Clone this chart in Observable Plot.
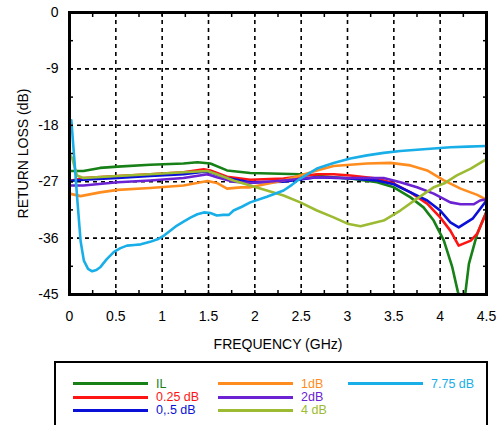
<!DOCTYPE html>
<html>
<head>
<meta charset="utf-8">
<script src="https://cdn.jsdelivr.net/npm/d3@7"></script>
<script src="https://cdn.jsdelivr.net/npm/@observablehq/plot@0.6"></script>
<style>
  html, body { margin: 0; padding: 0; background: white; }
  body { width: 500px; height: 425px; overflow: hidden; position: relative; font-family: "Liberation Sans", Arial, sans-serif; }
  #legend { position: absolute; left: 54px; top: 361px; width: 430px; height: 90px; border: 2px solid black; background: white; }
  .item { position: absolute; height: 12px; display: flex; align-items: center; font-size: 12.5px; line-height: 12px; white-space: nowrap; }
  .swatch { width: 75px; height: 3px; margin-right: 8px; }
</style>
</head>
<body>
<div id="chart"></div>
<div id="legend"></div>
<script>
// ---- data (frequency GHz, return loss dB) ----
const seriesNames = ["IL", "0.25 dB", "0,.5 dB", "1dB", "2dB", "4 dB", "7.75 dB"];
const seriesColors = ["#178017", "#ff1414", "#0a10d8", "#ff8c1e", "#6a22d2", "#9cbb32", "#18aee8"];

const ilData = [[0,-25.3],[0.15,-25.3],[0.33,-24.8],[0.52,-24.6],[0.87,-24.3],[1.23,-24.1],[1.38,-23.9],[1.52,-24.1],[1.70,-25.2],[1.95,-25.6],[2.49,-25.8],[2.85,-26.3],[3.03,-26.5],[3.32,-27.1],[3.50,-27.9],[3.68,-29.5],[3.82,-31.1],[3.93,-33.2],[4.04,-36.4],[4.13,-40.6],[4.19,-44.5],[4.23,-46.5],[4.27,-45.0],[4.31,-40.1],[4.40,-35.3],[4.5,-31.8]];
const db025Data = [[0,-26.9],[0.15,-26.4],[0.52,-26.1],[0.87,-25.8],[1.23,-25.5],[1.45,-25.0],[1.52,-25.2],[1.70,-26.2],[1.95,-26.7],[2.31,-26.5],[2.67,-25.8],[2.85,-25.8],[3.03,-26.0],[3.32,-26.5],[3.50,-27.3],[3.68,-28.7],[3.86,-30.5],[4.00,-32.7],[4.11,-34.8],[4.20,-37.2],[4.33,-36.4],[4.40,-35.3],[4.5,-31.8]];
const db05Data = [[0,-26.9],[0.15,-26.7],[0.52,-26.4],[0.87,-26.1],[1.23,-25.8],[1.45,-25.4],[1.52,-25.5],[1.70,-26.4],[1.95,-27.1],[2.31,-27.0],[2.67,-26.3],[3.03,-26.5],[3.32,-26.8],[3.50,-27.4],[3.68,-28.7],[3.86,-30.0],[4.00,-31.6],[4.11,-33.5],[4.20,-34.3],[4.35,-32.9],[4.5,-30.0]];
const db1Data = [[0,-28.9],[0.12,-29.3],[0.33,-28.7],[0.52,-28.3],[0.87,-28.0],[1.23,-27.6],[1.49,-26.9],[1.59,-27.2],[1.70,-28.1],[1.85,-27.9],[1.95,-27.9],[2.31,-26.8],[2.67,-25.2],[2.85,-24.5],[3.21,-24.1],[3.46,-24.0],[3.68,-24.4],[3.86,-25.2],[4.04,-26.8],[4.22,-28.1],[4.40,-29.1],[4.5,-29.9]];
const db2Data = [[0,-27.6],[0.15,-27.6],[0.52,-27.1],[0.87,-26.8],[1.23,-26.4],[1.49,-25.8],[1.59,-26.3],[1.77,-27.0],[1.95,-27.2],[2.31,-26.8],[2.67,-26.3],[3.03,-26.4],[3.39,-26.4],[3.57,-27.1],[3.75,-27.9],[3.93,-28.9],[4.11,-30.3],[4.22,-30.6],[4.36,-30.6],[4.43,-30.0],[4.5,-29.8]];
const db4Data = [[0,-22.6],[0.03,-23.3],[0.08,-26.0],[0.15,-26.4],[0.52,-26.1],[0.87,-25.8],[1.23,-25.5],[1.49,-25.3],[1.59,-25.8],[1.77,-26.8],[1.95,-27.6],[2.13,-28.4],[2.31,-29.2],[2.49,-30.3],[2.67,-31.6],[2.85,-32.7],[3.0,-33.7],[3.14,-34.1],[3.28,-33.6],[3.39,-33.2],[3.57,-31.6],[3.75,-29.7],[3.93,-27.9],[4.04,-27.3],[4.18,-26.0],[4.33,-24.9],[4.5,-23.4]];
const db775Data = [[0.02,-17.2],[0.05,-23.0],[0.085,-30.0],[0.12,-36.5],[0.155,-39.6],[0.2,-40.9],[0.245,-41.3],[0.29,-41.1],[0.335,-40.6],[0.4,-39.4],[0.48,-38.2],[0.55,-37.6],[0.62,-37.2],[0.7,-37.1],[0.77,-37.0],[0.87,-36.6],[0.95,-36.2],[1.02,-35.6],[1.09,-34.8],[1.16,-34.0],[1.24,-33.3],[1.31,-32.7],[1.38,-32.2],[1.45,-31.9],[1.52,-32.0],[1.59,-32.4],[1.66,-32.3],[1.72,-32.3],[1.77,-31.6],[1.86,-31.0],[1.95,-30.3],[2.13,-29.4],[2.31,-28.4],[2.4,-27.5],[2.49,-26.5],[2.58,-25.7],[2.67,-24.9],[2.85,-24.0],[3.03,-23.3],[3.21,-22.8],[3.39,-22.4],[3.57,-22.1],[3.75,-21.9],[3.93,-21.7],[4.11,-21.5],[4.3,-21.4],[4.5,-21.3]];

const xTicks = [0, 0.5, 1, 1.5, 2, 2.5, 3, 3.5, 4, 4.5];
const yTicks = [0, -9, -18, -27, -36, -45];
const xGrid = [0.5, 1, 1.5, 2, 2.5, 3, 3.5, 4];
const yGrid = [-9, -18, -27, -36];
const xMinor = [0.25, 0.75, 1.25, 1.75, 2.25, 2.75, 3.25, 3.75, 4.25];
const yMinor = [-4.5, -13.5, -22.5, -31.5, -40.5];

const allSeries = [ilData, db025Data, db05Data, db1Data, db2Data, db4Data, db775Data];
const rows = allSeries.flatMap((s, i) => s.map(([f, v]) => ({f, v, name: seriesNames[i]})));

const lineMarks = seriesNames.map((name, i) =>
  Plot.line(rows.filter(d => d.name === name), {x: "f", y: "v", stroke: seriesColors[i], strokeWidth: 2.6, clip: true})
);

const minorAxes = [
  Plot.axisX(xMinor.concat(xGrid), {anchor: "bottom", tickSize: 4, dy: -4, text: null, label: null, strokeWidth: 1.5}),
  Plot.axisX(xMinor.concat(xGrid), {anchor: "top", tickSize: 4, dy: 4, text: null, label: null, strokeWidth: 1.5}),
  Plot.axisY(yMinor.concat(yGrid), {anchor: "left", tickSize: 4, dx: 4, text: null, label: null, strokeWidth: 1.5}),
  Plot.axisY(yMinor.concat(yGrid), {anchor: "right", tickSize: 4, dx: -4, text: null, label: null, strokeWidth: 1.5})
];

const chart = Plot.plot({
  width: 500,
  height: 356,
  marginLeft: 69,
  marginRight: 14,
  marginTop: 12,
  marginBottom: 62,
  x: {domain: [0, 4.5]},
  y: {domain: [-45, 0]},
  style: {fontFamily: "'Liberation Sans', Arial, sans-serif", fontSize: "14px", color: "black", background: "white", overflow: "visible"},
  marks: [
    Plot.gridX(xGrid, {stroke: "black", strokeOpacity: 1, strokeWidth: 1.6, strokeDasharray: "4,4"}),
    Plot.gridY(yGrid, {stroke: "black", strokeOpacity: 1, strokeWidth: 1.6, strokeDasharray: "4,4"}),
    ...lineMarks,
    ...minorAxes,
    Plot.frame({stroke: "black", strokeWidth: 3}),
    Plot.axisX(xTicks, {anchor: "bottom", tickSize: 0, tickPadding: 17, tickFormat: d => String(d), fontSize: 14,
      label: "FREQUENCY (GHz)", labelAnchor: "center", labelOffset: 54, labelArrow: "none"}),
    Plot.axisY(yTicks, {anchor: "left", tickSize: 0, tickPadding: 11, tickFormat: d => String(d), fontSize: 14,
      label: "RETURN LOSS (dB)", labelAnchor: "center", labelOffset: 51, labelArrow: "none"})
  ]
});
document.getElementById("chart").appendChild(chart);

// ---- legend ----
const legendLeft = [17, 162, 292];
const legendTop = [14.5, 28, 41];
const legend = document.getElementById("legend");
seriesNames.forEach((name, i) => {
  const col = Math.floor(i / 3), row = i % 3;
  const item = document.createElement("div");
  item.className = "item";
  item.style.left = legendLeft[col] + "px";
  item.style.top = legendTop[row] + "px";
  item.style.color = seriesColors[i];
  const sw = document.createElement("div");
  sw.className = "swatch";
  sw.style.background = seriesColors[i];
  item.appendChild(sw);
  const tx = document.createElement("span");
  tx.textContent = name;
  item.appendChild(tx);
  legend.appendChild(item);
});
</script>
</body>
</html>
